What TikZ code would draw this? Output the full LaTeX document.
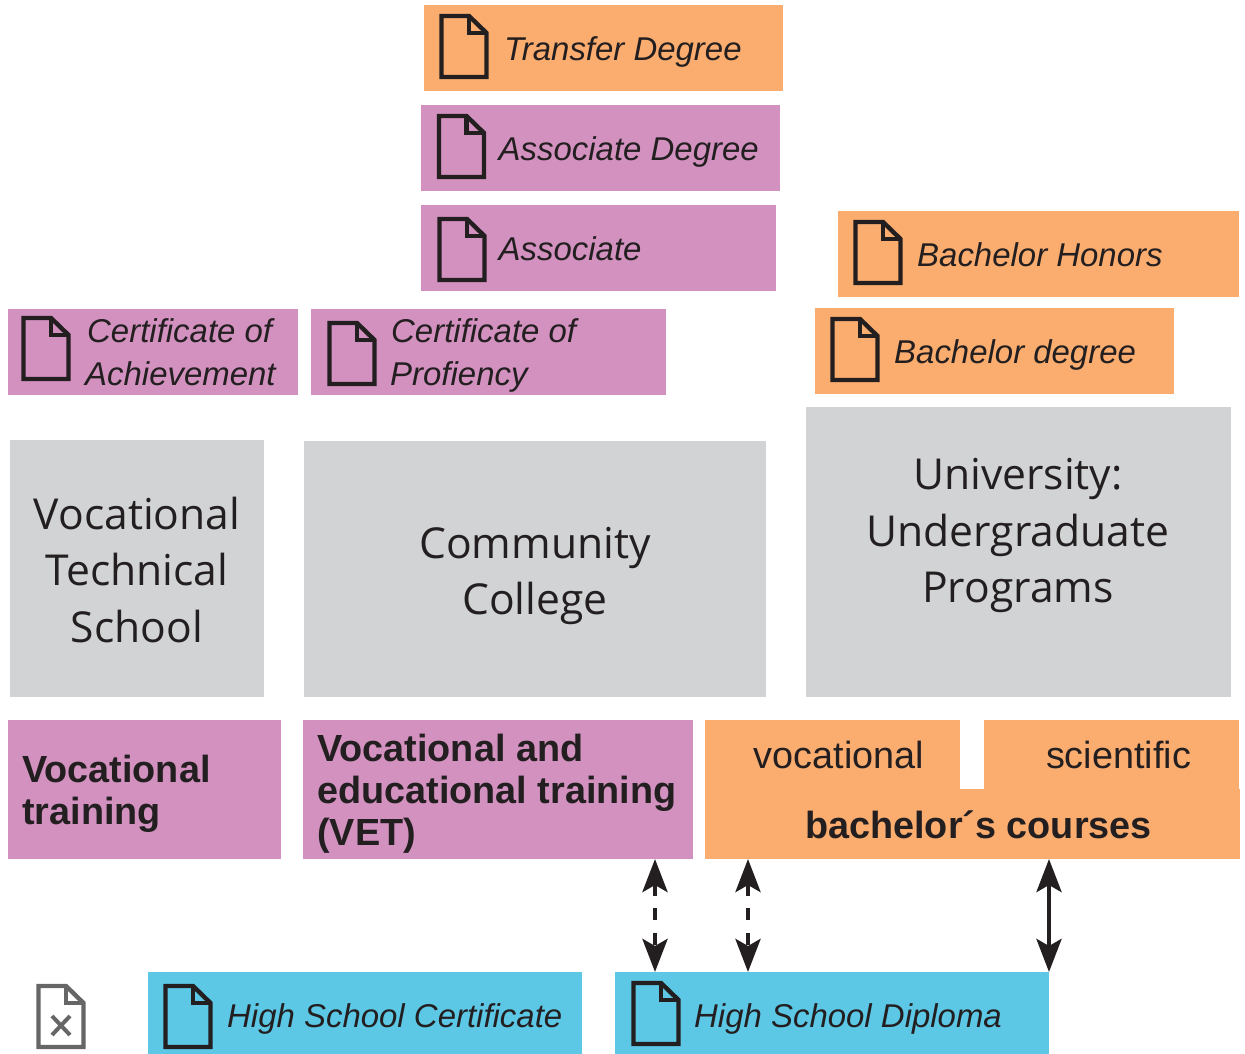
\documentclass[tikz,border=0pt]{standalone}
\usepackage{fontspec}
\setmainfont{Liberation Sans}
\newfontfamily\grayfont{Open Sans}
\usetikzlibrary{arrows.meta}
\definecolor{ora}{HTML}{FBAD6F}
\definecolor{pur}{HTML}{D291BF}
\definecolor{gry}{HTML}{D1D3D4}
\definecolor{blu}{HTML}{5CC8E6}
\definecolor{ink}{HTML}{231F20}
\definecolor{icongray}{HTML}{666666}
\newcommand{\tbox}[6]{\path (#2,#3) coordinate (#1nw) (#4,#5) coordinate (#1se);
  \node[boxnode,fill=#6,minimum width=#4pt-#2pt,minimum height=#5pt-#3pt] (#1) at ({(#2+#4)/2},{(#3+#5)/2}) {};}
\tikzset{
  x=1pt,y=-1pt,
  boxnode/.style={draw=none,inner sep=0,outer sep=0},
  ital/.style={anchor=base west,inner sep=0,text=ink,font=\fontsize{32.95}{43}\selectfont\itshape,align=left},
  boldt/.style={anchor=base west,inner sep=0,text=ink,font=\fontsize{37.8}{42.5}\selectfont\bfseries,align=left},
  plaint/.style={anchor=base,inner sep=0,text=ink,font=\fontsize{37.8}{42}\selectfont},
  grayt/.style={anchor=center,inner sep=0,text=ink,align=center,font=\fontsize{42.6}{56.2}\selectfont\grayfont},
  dbl/.style={line width=4.6pt,draw=ink,{Stealth[length=33pt,width=25pt,inset=7pt,fill=ink]}-{Stealth[length=33pt,width=25pt,inset=7pt,fill=ink]}},
  dashline/.style={dash pattern=on 12pt off 12.5pt},
  pics/docicon/.style={code={
    \draw[draw=#1,line width=4.4pt,miter limit=10,line join=miter] (2.5,2) -- (30,2) -- (47.5,19) -- (47.5,63) -- (2.5,63) -- cycle;
    \draw[draw=#1,line width=4.4pt,line join=miter] (30,2) -- (30,19) -- (47.5,19);
  }},
}
\begin{document}
\begin{tikzpicture}
\useasboundingbox (0,0) rectangle (1245,1054);
\tbox{transfer}{424}{5}{783}{91}{ora}
\tbox{assocdeg}{421}{105}{780}{191}{pur}
\tbox{assoc}{421}{205}{776}{291}{pur}
\tbox{bachon}{838}{211}{1239}{297}{ora}
\tbox{bachdeg}{815}{308}{1174}{394}{ora}
\tbox{certach}{8}{309}{298}{395}{pur}
\tbox{certprof}{311}{309}{666}{395}{pur}
\tbox{vts}{10}{440}{264}{697}{gry}
\tbox{cc}{304}{441}{766}{697}{gry}
\tbox{univ}{806}{407}{1231}{697}{gry}
\tbox{vt}{8}{720}{281}{859}{pur}
\tbox{vet}{303}{720}{693}{859}{pur}
\tbox{voc}{705}{720}{960}{790}{ora}
\tbox{sci}{984}{720}{1239}{790}{ora}
\tbox{bach}{705}{789}{1240}{859}{ora}
\tbox{hsc}{148}{972}{582}{1054}{blu}
\tbox{hsd}{615}{972}{1049}{1054}{blu}

\pic at (439,14) {docicon=ink};
\pic at (436.5,114) {docicon=ink};
\pic at (437,217) {docicon=ink};
\pic at (853,220) {docicon=ink};
\pic at (830,317) {docicon=ink};
\pic at (21,316) {docicon=ink};
\pic at (327,321) {docicon=ink};
\pic at (163,984) {docicon=ink};
\pic at (631,981) {docicon=ink};
\pic at (36,984) {docicon=icongray};
\draw[draw=icongray,line width=4pt] (52,1016) -- (70,1035) (70,1016) -- (52,1035);

\node[ital] (t1) at (504,60.5) {Transfer Degree};
\node[ital] (t2) at (498.5,160.5) {Associate Degree};
\node[ital] (t3) at (498.5,260.5) {Associate};
\node[ital] (t4) at (917,266) {Bachelor Honors};
\node[ital] (t5) at (894,363) {Bachelor degree};
\node[ital] (t6a) at (87,342) {Certificate of};
\node[ital] (t6b) at (85,385) {Achievement};
\node[ital] (t7a) at (391,342) {Certificate of};
\node[ital] (t7b) at (390,385) {Profiency};
\node[ital] (t8) at (227,1027) {High School Certificate};
\node[ital] (t9) at (694,1027) {High School Diploma};

\node[grayt] (g1) at (137,570) {Vocational\\Technical\\School};
\node[grayt] (g2) at (535,576) {Community\\College};
\node[grayt] (g3) at (1018,535.5) {University:\\Undergraduate\\Programs};

\node[boldt] (b1a) at (22,782) {Vocational};
\node[boldt] (b1b) at (22,824.5) {training};
\node[boldt] (b2a) at (317,761) {Vocational and};
\node[boldt] (b2b) at (317,803) {educational training};
\node[boldt] (b2c) at (317,845.5) {(VET)};
\node[plaint] (p1) at (839,768) {vocational};
\node[plaint] (p2) at (1118.5,768) {scientific};
\node[boldt,anchor=base] (b3) at (978.5,838) {bachelor´s courses};

\coordinate (a1) at (655,900);
\coordinate (a2) at (748,900);
\coordinate (a3) at (1049,900);
\draw[dbl,dashline] (vet.south -| a1) -- (hsd.north -| a1);
\draw[dbl,dashline] (bach.south -| a2) -- (hsd.north -| a2);
\draw[dbl] (bach.south -| a3) -- (hsd.north -| a3);
\end{tikzpicture}
\end{document}
